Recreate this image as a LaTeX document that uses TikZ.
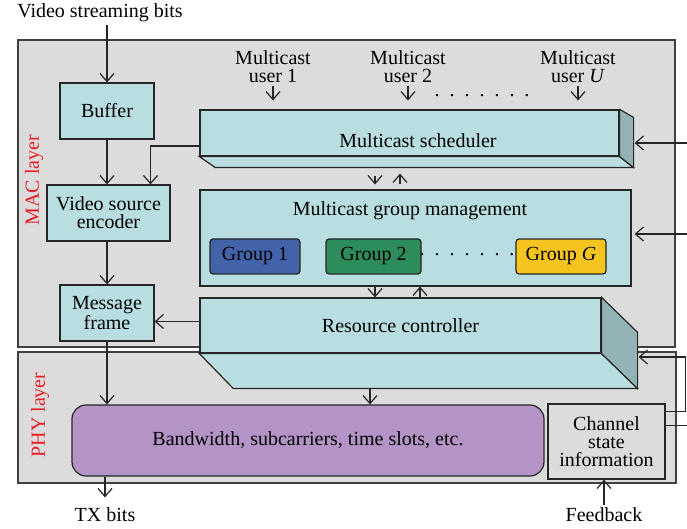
\documentclass[tikz,border=0pt]{standalone}
\usepackage{fontspec}
\setmainfont{Liberation Serif}
\usetikzlibrary{arrows.meta}

\definecolor{layergray}{RGB}{220,220,220}
\definecolor{boxteal}{RGB}{185,222,225}
\definecolor{sideteal}{RGB}{147,178,181}
\definecolor{grpblue}{RGB}{66,98,170}
\definecolor{grpgreen}{RGB}{44,140,90}
\definecolor{grpyellow}{RGB}{245,196,30}
\definecolor{phypurple}{RGB}{180,148,198}
\definecolor{layerred}{RGB}{237,28,36}

\begin{document}
\begin{tikzpicture}[>={Straight Barb[length=4pt,width=7pt]}, x=0.5pt, y=-0.5pt,
    line width=0.6pt, font=\fontsize{10}{9}\selectfont]
            \tikzset{layer/.style = {draw=black!75, fill=layergray, inner sep=0pt}}
            \tikzset{block/.style = {draw=black!85, fill=boxteal, align=center, inner sep=0pt}}
            \tikzset{face/.style = {draw=black!85, fill=boxteal}}
            \tikzset{group/.style = {draw=black!85, rounded corners=1.5pt, minimum height=17.5pt, inner sep=0pt}}
            \tikzset{lbl/.style = {align=center, inner sep=1pt}}
            \tikzset{link/.style = {->, draw=black!85}}

            \useasboundingbox (0,0) rectangle (687,529);
            \clip (0,0) rectangle (687,529);

            \node[layer, minimum width=328.5pt, minimum height=153.5pt] (mac) at (346.5,193.5) {};
            \node[layer, minimum width=329pt, minimum height=65.5pt] (phy) at (347,417.5) {};
            \node[lbl, rotate=90, text=layerred] (maclbl) at (34,180) {MAC layer};
            \node[lbl, rotate=90, text=layerred] (phylbl) at (40,415) {PHY layer};

            \node[lbl] (vsb) at (100,13) {Video streaming bits};
            \node[lbl] (tx) at (105,515) {TX bits};
            \node[lbl] (fb) at (604,515) {Feedback};

            \node[block, minimum width=47pt, minimum height=28pt] (buffer) at (107,111) {Buffer};
            \node[block, minimum width=61.5pt, minimum height=28pt] (enc) at (108.5,213) {Video source\\encoder};
            \node[block, minimum width=47pt, minimum height=28pt] (msg) at (107,313) {Message\\frame};

            \node[lbl] (u1) at (273,67) {Multicast\\user 1};
            \node[lbl] (u2) at (408,67) {Multicast\\user 2};
            \node[lbl] (uU) at (578,67) {Multicast\\user \textit{U}};
            \node[lbl] (udots) at (482,96) {.\ \ .\ \ .\ \ .\ \ .\ \ .\ \ .};

            \node[block, minimum width=209.5pt, minimum height=23pt] (sched) at (409.5,133) {};
            \draw[face] (sched.south west) -- ++(16,11) -- ([shift={(14,11)}]sched.south east) -- (sched.south east) -- cycle;
            \draw[face, fill=sideteal] (sched.north east) -- ++(14,8) -- ([shift={(14,11)}]sched.south east) -- (sched.south east) -- cycle;
            \node[lbl] (schedt) at (418,141) {Multicast scheduler};

            \node[block, minimum width=215.5pt, minimum height=48pt] (gm) at (415.5,238) {};
            \node[lbl] (gmt) at (410,211) {Multicast group management};
            \node[group, fill=grpblue, minimum width=45pt] (g1) at (255,256.5) {Group 1};
            \node[group, fill=grpgreen, minimum width=47.5pt] (g2) at (373.5,256.5) {Group 2};
            \node[group, fill=grpyellow, minimum width=45pt] (gG) at (561,256.5) {Group \textit{G}};
            \node[lbl] (gdots) at (467,255) {.\ \ .\ \ .\ \ .\ \ .\ \ .\ \ .};

            \node[block, minimum width=200.5pt, minimum height=27.5pt] (rc) at (400.5,325.5) {Resource controller};
            \draw[face] (rc.south west) -- ++(34,35) -- ([shift={(36,35)}]rc.south east) -- (rc.south east) -- cycle;
            \draw[face, fill=sideteal] (rc.north east) -- ++(36,35) -- ([shift={(36,35)}]rc.south east) -- (rc.south east) -- cycle;

            \node[block, fill=phypurple, rounded corners=7pt, minimum width=236pt, minimum height=35.5pt] (bw) at (308,440.5) {Bandwidth, subcarriers, time slots, etc.};
            \node[block, fill=layergray, minimum width=58.5pt, minimum height=37.5pt] (csi) at (606.5,441.5) {Channel\\state\\information};

            \coordinate (sR) at ([shift={(15,10)}]sched.east);
            \coordinate (gR) at ([shift={(3,-4)}]gm.east);
            \coordinate (rR) at ([shift={(37,31.5)}]rc.east);
            \coordinate (rB) at ([shift={(-30.5,35)}]rc.south);
            \coordinate (xR) at (700,0);

            \draw[link] (vsb.south -| buffer.north) -- (buffer.north);
            \draw[link] (buffer.south) -- (buffer.south |- enc.north);
            \draw[link] (enc.south -| msg.north) -- (msg.north);
            \draw[link] (msg.south) -- (msg.south |- bw.north);
            \draw[link, shorten >=4pt] (bw.south -| tx.north) -- (tx.north);
            \draw[link] (fb.north) -- (fb.north |- csi.south);
            \draw[link] ([yshift=-6.5pt]sched.west) -| ([xshift=21pt]enc.north);

            \draw[link, shorten >=4.5pt] (u1.south) -- (u1.south |- sched.north);
            \draw[link, shorten >=4.5pt] (u2.south) -- (u2.south |- sched.north);
            \draw[link, shorten >=4.5pt] (uU.south) -- (uU.south |- sched.north);

            \draw[link, shorten <=9.5pt, shorten >=2.5pt] ([xshift=-17.25pt]sched.south) -- ([xshift=-17.25pt]sched.south |- gm.north);
            \draw[link, shorten <=2.5pt, shorten >=8.5pt] ([xshift=-4.75pt]sched.south |- gm.north) -- ([xshift=-4.75pt]sched.south);
            \draw[link] ([xshift=-20.25pt]gm.south) -- ([xshift=-20.25pt]gm.south |- rc.north);
            \draw[link] ([xshift=2.25pt]gm.south |- rc.north) -- ([xshift=2.25pt]gm.south);

            \draw[link] ([yshift=2pt]rc.west) -- ([yshift=2pt]rc.west -| msg.east);
            \draw[link] (rB) -- (rB |- bw.north);

            \draw[link] ([yshift=8pt]csi.east) -| (xR |- sR) -- (sR);
            \draw[link] (xR |- gR) -- (gR);
            \draw[link] ([yshift=15pt]csi.east) -- ++(20,0) |- (rR);
\end{tikzpicture}
\end{document}
